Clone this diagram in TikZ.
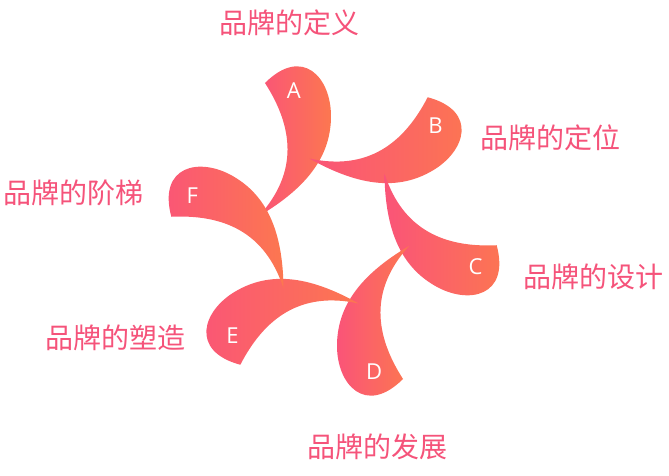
\documentclass[tikz,border=0pt]{standalone}
\usepackage{fontspec}
\setmainfont{Open Sans}
\newfontfamily\cjk{Noto Sans CJK SC}
\definecolor{petalpink}{HTML}{FA5478}
\definecolor{petalorange}{HTML}{FC7750}
\definecolor{topicpink}{HTML}{F5537A}
\begin{document}
\begin{tikzpicture}[x=1pt,y=1pt,
  petal/.style={left color=petalpink,right color=petalorange,draw=none},
  letter/.style={text=white,font=\fontsize{22}{26}\selectfont},
  topic/.style={text=topicpink,font=\cjk\fontsize{28}{32}\selectfont}]
\useasboundingbox (-334,-245) rectangle (335,231);
% the six petals, each one turned by 60 degrees
\foreach \k/\l in {0/A,1/B,2/C,3/D,4/E,5/F}{
  \pgfmathsetmacro\o{-60*\k}
  \shade[petal] (\o+168.7:76.5) .. controls (\o+120.8:68.7) and (\o+111.4:111.7) .. (\o+115:163.3)
    .. controls (\o+99.7:188) and (\o+91.1:153.7) .. (\o+91.5:115)
    .. controls (\o+92.2:77.1) and (\o+118.4:51.1) .. (\o+168.7:76.5) -- cycle;
  \node[letter] (\l) at (\o+106:146) {\l};
}
% the topics round the flower
\node[topic] (define) at (-44,208) {品牌的定义};
\node[topic] (position) at (216.5,93) {品牌的定位};
\node[topic] (design) at (259.5,-46) {品牌的设计};
\node[topic] (develop) at (43.5,-215.7) {品牌的发展};
\node[topic] (shape) at (-218,-107) {品牌的塑造};
\node[topic] (ladder) at (-260,38) {品牌的阶梯};
\end{tikzpicture}
\end{document}
